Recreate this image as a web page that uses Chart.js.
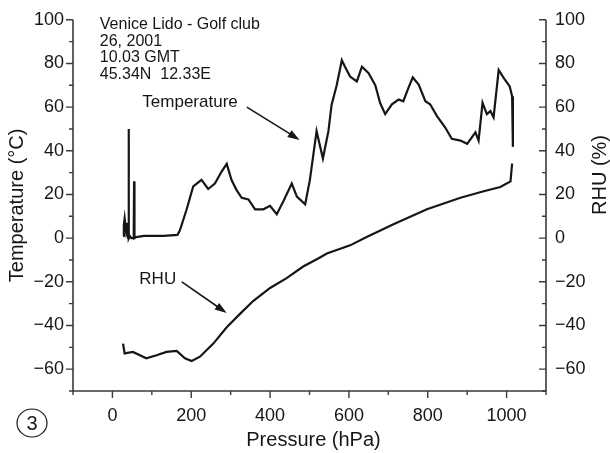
<!DOCTYPE html>
<html>
<head>
<meta charset="utf-8">
<script src="https://cdn.jsdelivr.net/npm/chart.js@4"></script>
<style>
body { margin: 0; background: #fff; }
#wrap { width: 610px; height: 453px; }
</style>
</head>
<body>
<div id="wrap"><canvas id="myChart" width="610" height="453"></canvas></div>
<script>
// pressure (hPa) / value pairs
var tempP = [27,29,31,34,36,38,40,41,42,44,48,54,55,56,60,80,100,130,165,171,188,205,226,243,260,277,290,302,315,328,345,362,383,400,417,434,455,468,489,501,518,534,548,556,569,582,590,603,620,633,650,667,679,692,709,726,738,751,762,777,794,806,823,844,861,883,900,921,929,939,950,959,967,980,993,1008,1014,1016];
var tempV = [1,6,9,4,7,1,0,50,0,1,0,0,26,0,0.5,1,1,1,1.5,3.5,13,23.7,26.7,22.5,25,30.5,34,26.7,22,18.5,17.7,13.2,13.2,14.8,11,17,25,19,15.5,26.7,49,36.5,49,61,70,81.5,78.5,74,71.8,78.5,75.5,70,62,56.8,61.3,63.5,62.7,68.8,73.6,70.3,62.7,61.3,56,50.8,45.5,44.7,43.2,48.5,44.7,62,56.8,58.2,55.3,77,73.3,69.5,65,41.8];
var rhuP = [27,31,52,86,112,137,163,184,201,222,256,290,323,357,400,442,484,522,544,603,645,713,798,883,942,984,1010,1014];
var rhuV = [-48.3,-52.8,-52.1,-55,-53.6,-52.1,-51.6,-55,-56.3,-54.3,-48.3,-40.8,-34.8,-28.8,-22.8,-18.3,-13,-9.3,-7,-3.3,0.5,6.4,13.2,18.5,21.5,23.4,26,34.2];
var xTicks = [0,200,400,600,800,1000];
var yTicks = [-60,-40,-20,0,20,40,60,80,100];
var infoLines = ['Venice Lido - Golf club', '26, 2001', '10.03 GMT', '45.34N  12.33E'];

var FONT = '"Liberation Sans", Arial, Helvetica, sans-serif';
var INK = '#161616';

function minus(v) { return String(v).replace('-', '\u2212'); }

function arrow(ctx, x1, y1, x2, y2) {
    var ang = Math.atan2(y2 - y1, x2 - x1);
    ctx.beginPath();
    ctx.moveTo(x1, y1);
    ctx.lineTo(x2 - 8 * Math.cos(ang), y2 - 8 * Math.sin(ang));
    ctx.stroke();
    ctx.beginPath();
    ctx.moveTo(x2, y2);
    ctx.lineTo(x2 - 12 * Math.cos(ang) + 4 * Math.sin(ang), y2 - 12 * Math.sin(ang) - 4 * Math.cos(ang));
    ctx.lineTo(x2 - 12 * Math.cos(ang) - 4 * Math.sin(ang), y2 - 12 * Math.sin(ang) + 4 * Math.cos(ang));
    ctx.closePath();
    ctx.fill();
}

// axes lines, minor ticks, titles and annotations
var decor = {
    id: 'decor',
    afterDraw: function(chart) {
        var ctx = chart.ctx;
        var xs = chart.scales.x, ys = chart.scales.y;
        var a = chart.chartArea;
        ctx.save();
        ctx.strokeStyle = '#3a3a3a';
        ctx.fillStyle = INK;
        ctx.lineWidth = 1.6;
        ctx.beginPath();
        ctx.moveTo(a.left, a.top); ctx.lineTo(a.left, a.bottom);
        ctx.lineTo(a.right, a.bottom); ctx.lineTo(a.right, a.top);
        ctx.stroke();
        ctx.lineWidth = 1.4;
        ctx.beginPath();
        for (var v = -70; v <= 100; v += 10) {
            var py = ys.getPixelForValue(v);
            var len = (v % 20 === 0) ? 7 : 4;
            ctx.moveTo(a.left - len, py); ctx.lineTo(a.left, py);
            ctx.moveTo(a.right, py); ctx.lineTo(a.right - len, py);
        }
        for (var p = -100; p <= 1100; p += 100) {
            var px = xs.getPixelForValue(p);
            var l2 = (p % 200 === 0) ? 7 : 4;
            ctx.moveTo(px, a.bottom); ctx.lineTo(px, a.bottom + l2);
        }
        ctx.stroke();

        // axis titles
        ctx.font = '20px ' + FONT;
        ctx.textAlign = 'center';
        ctx.textBaseline = 'middle';
        ctx.fillText('Pressure (hPa)', (a.left + a.right) / 2 + 4, 440);
        ctx.save();
        ctx.translate(17, (a.top + a.bottom) / 2);
        ctx.rotate(-Math.PI / 2);
        ctx.fillText('Temperature (\u00B0C)', 0, 0);
        ctx.restore();
        ctx.save();
        ctx.translate(600, 175);
        ctx.rotate(-Math.PI / 2);
        ctx.fillText('RHU (%)', 0, 0);
        ctx.restore();

        // station info
        ctx.font = '16px ' + FONT;
        ctx.textAlign = 'left';
        ctx.textBaseline = 'alphabetic';
        var ix = xs.getPixelForValue(-32), iy = ys.getPixelForValue(95.6);
        infoLines.forEach(function(t, i) { ctx.fillText(t, ix, iy + i * 16.5); });

        // series labels with arrows
        ctx.font = '17px ' + FONT;
        ctx.textAlign = 'right';
        ctx.textBaseline = 'middle';
        ctx.fillText('Temperature', xs.getPixelForValue(318), ys.getPixelForValue(62));
        ctx.textAlign = 'center';
        ctx.fillText('RHU', xs.getPixelForValue(115), ys.getPixelForValue(-19));
        ctx.lineWidth = 1.6;
        ctx.strokeStyle = INK;
        arrow(ctx, xs.getPixelForValue(341), ys.getPixelForValue(60), xs.getPixelForValue(475), ys.getPixelForValue(45));
        arrow(ctx, xs.getPixelForValue(176), ys.getPixelForValue(-20), xs.getPixelForValue(290), ys.getPixelForValue(-34.3));

        // panel number
        ctx.lineWidth = 1.2;
        ctx.beginPath();
        ctx.ellipse(32, 423, 15, 14, 0, 0, Math.PI * 2);
        ctx.stroke();
        ctx.font = '20px ' + FONT;
        ctx.textAlign = 'center';
        ctx.fillText('3', 32, 424);
        ctx.restore();
    }
};

var ctx = document.getElementById('myChart').getContext('2d');
var chart = new Chart(ctx, {
    type: 'line',
    data: {
        datasets: [
        {
            label: 'Temperature',
            data: tempP.map(function(p, i) { return { x: p, y: tempV[i] }; }),
            borderColor: INK,
            borderWidth: 2.2,
            pointRadius: 0,
            tension: 0,
            fill: false
        },
        {
            label: 'RHU',
            data: rhuP.map(function(p, i) { return { x: p, y: rhuV[i] }; }),
            borderColor: INK,
            borderWidth: 2.2,
            pointRadius: 0,
            tension: 0,
            fill: false
        }
        ]
    },
    options: {
        responsive: false,
        animation: false,
        layout: { padding: { top: 14, left: 0, right: 0, bottom: 0 } },
        plugins: { legend: { display: false }, tooltip: { enabled: false } },
        scales: {
            x: {
                type: 'linear', position: 'bottom', min: -100, max: 1100,
                grid: { display: false, drawTicks: false },
                border: { display: false },
                afterBuildTicks: function(s) { s.ticks = xTicks.map(function(v) { return { value: v }; }); },
                afterFit: function(s) { s.height = 62; },
                ticks: { autoSkip: false, maxRotation: 0, padding: 14, color: INK, font: { family: FONT, size: 18 }, callback: function(v) { return String(v); } }
            },
            y: {
                type: 'linear', position: 'left', min: -70, max: 100,
                grid: { display: false, drawTicks: false },
                border: { display: false },
                afterBuildTicks: function(s) { s.ticks = yTicks.map(function(v) { return { value: v }; }); },
                afterFit: function(s) { s.width = 73; },
                ticks: { autoSkip: false, padding: 9, color: INK, font: { family: FONT, size: 18 }, callback: function(v) { return minus(v); } }
            },
            y2: {
                type: 'linear', position: 'right', min: -70, max: 100,
                grid: { display: false, drawTicks: false },
                border: { display: false },
                afterBuildTicks: function(s) { s.ticks = yTicks.map(function(v) { return { value: v }; }); },
                afterFit: function(s) { s.width = 64; },
                ticks: { autoSkip: false, padding: 9, color: INK, font: { family: FONT, size: 18 }, callback: function(v) { return minus(v); } }
            }
        }
    },
    plugins: [decor]
});
</script>
</body>
</html>
